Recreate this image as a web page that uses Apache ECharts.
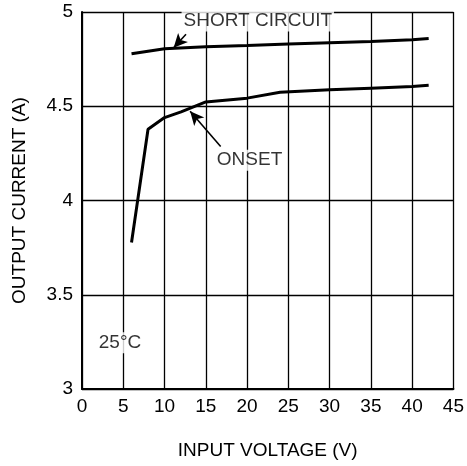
<!DOCTYPE html>
<html>
<head>
<meta charset="utf-8">
<script src="https://cdn.jsdelivr.net/npm/echarts@6/dist/echarts.min.js"></script>
<style>
	html, body { margin: 0; padding: 0; background: #fff; }
	#chart { width: 467px; height: 466px; }
</style>
</head>
<body>
<div id="chart"></div>
<script>
// 输入电压 (V)
var shortVolt = [6, 8, 10, 15, 20, 25, 30, 35, 40, 42];
var shortAmp = [4.778, 4.792, 4.805, 4.815, 4.822, 4.83, 4.837, 4.843, 4.853, 4.86];
var onsetVolt = [6, 8, 10, 12, 15, 20, 24, 30, 35, 40, 42];
var onsetAmp = [3.777, 4.378, 4.44, 4.47, 4.523, 4.543, 4.574, 4.587, 4.596, 4.605, 4.611];

// 注释文字 [x, y, text]
var notes = [
	[21.3, 4.952, 'SHORT CIRCUIT'],
	[20.3, 4.214, 'ONSET'],
	[4.6, 3.245, '25°C']
];
// 箭头 [x1, y1, x2, y2]
var arrows = [
	[12.6, 4.882, 11.1, 4.81],
	[16.8, 4.286, 13.1, 4.474]
];

var xTicks = [0, 5, 10, 15, 20, 25, 30, 35, 40, 45];
var yTicks = [3, 3.5, 4, 4.5, 5];

function pairs(xs, ys) {
	var out = [];
	for (var i in xs) {
		out.push([xs[i], ys[i]]);
	}
	return out;
}

var font = 'Liberation Sans, Arial, sans-serif';
var chart = echarts.init(document.getElementById('chart'));

var arrowData = [];
for (var i in arrows) {
	arrowData.push([
		{ coord: [arrows[i][0], arrows[i][1]], symbol: 'none' },
		{ coord: [arrows[i][2], arrows[i][3]], symbol: 'arrow' }
	]);
}

var noteData = [];
for (var i in notes) {
	noteData.push({ value: [notes[i][0], notes[i][1]], name: notes[i][2] });
}

var option = {
	animation: false,
	grid: { left: 82, right: 11, top: 12, bottom: 77, containLabel: false },
	xAxis: {
		type: 'value',
		min: xTicks[0], max: xTicks[xTicks.length - 1], interval: 5,
		name: 'INPUT VOLTAGE (V)',
		nameLocation: 'middle',
		nameGap: 52,
		nameTextStyle: { fontFamily: font, fontSize: 19, color: '#000' },
		axisLine: { show: true, onZero: false, lineStyle: { color: '#000', width: 2 } },
		axisTick: { show: false },
		axisLabel: { fontFamily: font, fontSize: 19, color: '#000', margin: 8 },
		splitLine: { show: true, lineStyle: { color: '#000', width: 1.3 } }
	},
	yAxis: {
		type: 'value',
		min: yTicks[0], max: yTicks[yTicks.length - 1], interval: 0.5,
		name: 'OUTPUT CURRENT (A)',
		nameLocation: 'middle',
		nameGap: 53,
		nameTextStyle: { fontFamily: font, fontSize: 19, color: '#000' },
		axisLine: { show: true, lineStyle: { color: '#000', width: 2 } },
		axisTick: { show: false },
		axisLabel: { fontFamily: font, fontSize: 19, color: '#000', margin: 9 },
		splitLine: { show: true, lineStyle: { color: '#000', width: 1.3 } }
	},
	series: [{
		name: 'SHORT CIRCUIT',
		type: 'line',
		data: pairs(shortVolt, shortAmp),
		showSymbol: false,
		lineStyle: { color: '#000', width: 3 }
	}, {
		name: 'ONSET',
		type: 'line',
		data: pairs(onsetVolt, onsetAmp),
		showSymbol: false,
		lineStyle: { color: '#000', width: 3 },
		markLine: {
			silent: true,
			symbolSize: [10, 14],
			lineStyle: { color: '#000', width: 1.6, type: 'solid' },
			label: { show: false },
			data: arrowData
		}
	}, {
		name: 'notes',
		type: 'scatter',
		symbolSize: 0,
		itemStyle: { color: '#000' },
		data: noteData,
		z: 5,
		label: {
			show: true,
			position: 'inside',
			formatter: function(p) { return p.name; },
			fontFamily: font,
			fontSize: 19,
			color: '#000',
			textBorderWidth: 0,
			textBorderColor: 'transparent',
			backgroundColor: '#fff',
			padding: [1, 2]
		}
	}]
};

chart.setOption(option);
</script>
</body>
</html>
